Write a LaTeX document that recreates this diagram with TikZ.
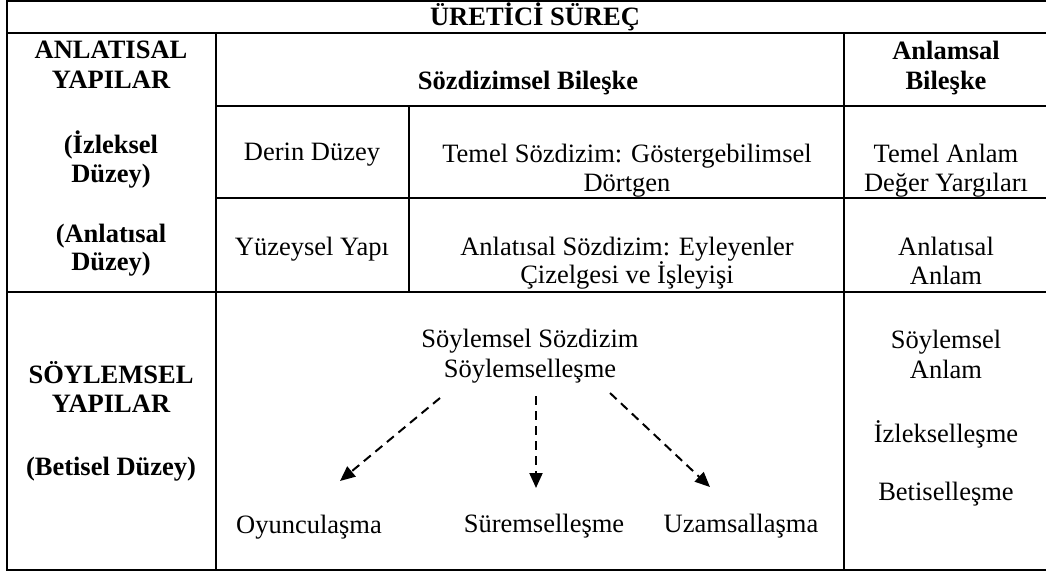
\documentclass[tikz,border=0pt]{standalone}
\usepackage{fontspec}
\setmainfont{Liberation Serif}
\usetikzlibrary{arrows.meta}
\begin{document}
\begin{tikzpicture}[x=1pt,y=-1pt,
  rule/.style={line width=2pt},
  txt/.style={inner sep=0pt, anchor=base, font=\fontsize{26.5}{30}\selectfont},
  hd/.style={inner sep=0pt, anchor=base, font=\fontsize{26.5}{30}\selectfont\bfseries},
  flow/.style={line width=2pt, dash pattern=on 9pt off 6pt,
    -{Triangle[length=15pt,width=13pt]}}
]
\useasboundingbox (0,0) rectangle (1046,574);

% table rules
\draw[rule] (1048,1) -- (7,1) -- (7,570) -- (1048,570);
\draw[rule] (7,33) -- (1048,33);
\draw[rule] (216,106) -- (1048,106);
\draw[rule] (216,198) -- (1048,198);
\draw[rule] (7,292) -- (1048,292);
\draw[rule] (216,33) -- (216,570);
\draw[rule] (409,106) -- (409,292);
\draw[rule] (844,33) -- (844,570);

% header row
\node[hd] (title) at (535,25) {ÜRETİCİ SÜREÇ};

% left column
\node[hd] (ay1) at (111,58) {ANLATISAL};
\node[hd] (ay2) at (111,88) {YAPILAR};
\node[hd] (iz1) at (111,153) {(İzleksel};
\node[hd] (iz2) at (111,182) {Düzey)};
\node[hd] (an1) at (111,242) {(Anlatısal};
\node[hd] (an2) at (111,270) {Düzey)};
\node[hd] (sy1) at (111,383) {SÖYLEMSEL};
\node[hd] (sy2) at (111,412) {YAPILAR};
\node[hd] (bd) at (111,475) {(Betisel Düzey)};

% column heads
\node[hd] (sb) at (528,89) {Sözdizimsel Bileşke};
\node[hd] (ab1) at (946,59) {Anlamsal};
\node[hd] (ab2) at (946,89) {Bileşke};

% deep level
\node[txt] (dd) at (312,160) {Derin Düzey};
\node[txt] (ts1) at (627,162) {Temel Sözdizim: Göstergebilimsel};
\node[txt] (ts2) at (627,191) {Dörtgen};
\node[txt] (ta1) at (946,162) {Temel Anlam};
\node[txt] (ta2) at (946,191) {Değer Yargıları};

% surface level
\node[txt] (yy) at (312,255) {Yüzeysel Yapı};
\node[txt] (as1) at (627,255) {Anlatısal Sözdizim: Eyleyenler};
\node[txt] (as2) at (627,283) {Çizelgesi ve İşleyişi};
\node[txt] (aa1) at (946,255) {Anlatısal};
\node[txt] (aa2) at (946,284) {Anlam};

% discursive level
\node[txt] (ss1) at (530,347) {Söylemsel Sözdizim};
\node[txt] (ss2) at (530,377) {Söylemselleşme};
\node[txt] (oy) at (309,533) {Oyunculaşma};
\node[txt] (su) at (544,532) {Süremselleşme};
\node[txt] (uz) at (741,532) {Uzamsallaşma};
\node[txt] (sa1) at (946,348) {Söylemsel};
\node[txt] (sa2) at (946,378) {Anlam};
\node[txt] (il) at (946,442) {İzlekselleşme};
\node[txt] (bs) at (946,500) {Betiselleşme};

% dashed arrows
\coordinate (l0) at (440,398);
\coordinate (l1) at (340,481);
\coordinate (m0) at (536,396);
\coordinate (m1) at (536,488);
\coordinate (r0) at (610,393);
\coordinate (r1) at (710,487);
\draw[flow] (l0) -- (l1);
\draw[flow] (m0) -- (m1);
\draw[flow] (r0) -- (r1);
\end{tikzpicture}
\end{document}
